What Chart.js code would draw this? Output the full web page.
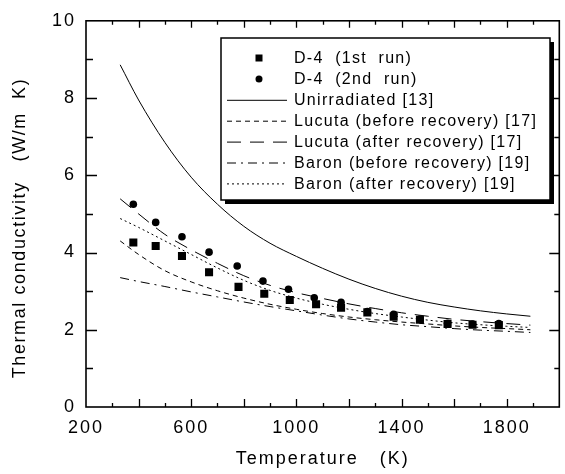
<!DOCTYPE html>
<html>
<head>
<meta charset="utf-8">
<script src="https://cdn.jsdelivr.net/npm/chart.js@4/dist/chart.umd.min.js"></script>
<style>
  html, body { margin: 0; padding: 0; background: #fff; }
</style>
</head>
<body>
<canvas id="chart" width="565" height="474"></canvas>
<script>
// measured points (temperature K, conductivity W/m K)
const run1Temps = [380, 465, 565, 668, 780, 878, 975, 1075, 1170, 1270, 1370, 1470, 1575, 1670, 1770];
const run1Values = [4.26, 4.17, 3.91, 3.49, 3.11, 2.93, 2.77, 2.66, 2.57, 2.45, 2.34, 2.26, 2.15, 2.13, 2.12];
const run2Temps = [380, 465, 565, 668, 775, 873, 970, 1068, 1170, 1270, 1370, 1470, 1575, 1670, 1770];
const run2Values = [5.25, 4.78, 4.41, 4.01, 3.65, 3.26, 3.05, 2.83, 2.71, 2.47, 2.40, 2.28, 2.17, 2.15, 2.16];

// literature curves, read at these temperatures
const curveTemps = [330, 400, 500, 600, 700, 800, 900, 1000, 1100, 1200, 1300, 1400, 1500, 1600, 1700, 1800, 1890];
const unirradiated = [8.86, 7.95, 6.85, 5.95, 5.25, 4.68, 4.24, 3.9, 3.59, 3.31, 3.07, 2.87, 2.71, 2.59, 2.49, 2.41, 2.35];
const lucutaBefore = [4.3, 3.95, 3.53, 3.24, 3.01, 2.82, 2.66, 2.53, 2.42, 2.33, 2.26, 2.2, 2.15, 2.1, 2.06, 2.03, 2.0];
const lucutaAfter = [5.39, 5.0, 4.47, 4.07, 3.72, 3.4, 3.15, 2.96, 2.81, 2.67, 2.55, 2.44, 2.35, 2.27, 2.21, 2.16, 2.12];
const baronBefore = [3.35, 3.25, 3.12, 2.98, 2.85, 2.72, 2.6, 2.49, 2.38, 2.28, 2.2, 2.13, 2.08, 2.03, 1.99, 1.96, 1.93];
const baronAfter = [4.88, 4.65, 4.3, 3.95, 3.6, 3.28, 3.02, 2.82, 2.66, 2.53, 2.42, 2.33, 2.25, 2.18, 2.13, 2.09, 2.06];

// axis ticks
const xTickLabels = [200, 600, 1000, 1400, 1800];
const yTickLabels = [0, 2, 4, 6, 8, 10];
const xMajorTicks = [400, 600, 800, 1000, 1200, 1400, 1600, 1800];
const xMinorTicks = [300, 500, 700, 900, 1100, 1300, 1500, 1700, 1900];
const yMajorTicks = [2, 4, 6, 8];
const yMinorTicks = [1, 3, 5, 7, 9];
const yTitle = 'Thermal conductivity   (W/m  K)';

const FONT = "'Liberation Sans', Arial, sans-serif";

function pairs(xs, ys) {
    return xs.map((x, i) => ({ x: x, y: ys[i] }));
}

function lineSet(label, values, dash) {
    return {
        label: label,
        data: pairs(curveTemps, values),
        showLine: true,
        borderColor: '#000',
        borderWidth: 1,
        borderDash: dash,
        pointRadius: 0,
        fill: false,
        cubicInterpolationMode: 'monotone'
    };
}

const datasets = [
    {
        label: 'D-4  (1st  run)',
        data: pairs(run1Temps, run1Values),
        pointStyle: 'rect',
        pointRadius: 5.7,
        backgroundColor: '#000',
        borderColor: '#000',
        borderWidth: 0,
        showLine: false
    },
    {
        label: 'D-4  (2nd  run)',
        data: pairs(run2Temps, run2Values),
        pointStyle: 'circle',
        pointRadius: 3.8,
        backgroundColor: '#000',
        borderColor: '#000',
        borderWidth: 0,
        showLine: false
    },
    lineSet('Unirradiated [13]', unirradiated, []),
    lineSet('Lucuta (before recovery) [17]', lucutaBefore, [5, 4]),
    lineSet('Lucuta (after recovery) [17]', lucutaAfter, [14, 9]),
    lineSet('Baron (before recovery) [19]', baronBefore, [9, 5, 2, 5]),
    lineSet('Baron (after recovery) [19]', baronAfter, [2, 3])
];

// inward ticks on all four sides, the frame and the y title
const frameTicks = {
    id: 'frameTicks',
    afterDatasetsDraw(chart) {
        const ctx = chart.ctx;
        const a = chart.chartArea;
        const xs = chart.scales.x, ys = chart.scales.y;
        ctx.save();
        ctx.strokeStyle = '#000';
        ctx.lineWidth = 1.3;
        ctx.setLineDash([]);
        ctx.beginPath();
        xMajorTicks.forEach(v => {
            const p = Math.round(xs.getPixelForValue(v)) + 0.5;
            ctx.moveTo(p, a.bottom); ctx.lineTo(p, a.bottom - 8);
            ctx.moveTo(p, a.top); ctx.lineTo(p, a.top + 7);
        });
        xMinorTicks.forEach(v => {
            const p = Math.round(xs.getPixelForValue(v)) + 0.5;
            ctx.moveTo(p, a.bottom); ctx.lineTo(p, a.bottom - 4);
            ctx.moveTo(p, a.top); ctx.lineTo(p, a.top + 4);
        });
        yMajorTicks.forEach(v => {
            const p = Math.round(ys.getPixelForValue(v)) + 0.5;
            ctx.moveTo(a.left, p); ctx.lineTo(a.left + 11, p);
            ctx.moveTo(a.right, p); ctx.lineTo(a.right - 10, p);
        });
        yMinorTicks.forEach(v => {
            const p = Math.round(ys.getPixelForValue(v)) + 0.5;
            ctx.moveTo(a.left, p); ctx.lineTo(a.left + 7, p);
            ctx.moveTo(a.right, p); ctx.lineTo(a.right - 5, p);
        });
        ctx.stroke();
        ctx.lineWidth = 1.6;
        ctx.strokeRect(a.left, a.top, a.right - a.left, a.bottom - a.top);

        // y axis title
        ctx.translate(20, 228);
        ctx.rotate(-Math.PI / 2);
        ctx.font = '18px ' + FONT;
        ctx.letterSpacing = '1.6px';
        ctx.fillStyle = '#000';
        ctx.textAlign = 'center';
        ctx.textBaseline = 'middle';
        ctx.fillText(yTitle, 0, 0);
        ctx.restore();
    }
};

// boxed legend with a drop shadow inside the plot
const boxLegend = {
    id: 'boxLegend',
    afterDraw(chart) {
        const ctx = chart.ctx;
        const bx = 221, by = 38, bw = 329, bh = 162;
        ctx.save();
        ctx.fillStyle = '#000';
        ctx.fillRect(bx + 4, by + 4, bw, bh);
        ctx.fillStyle = '#fff';
        ctx.fillRect(bx, by, bw, bh);
        ctx.strokeStyle = '#000';
        ctx.lineWidth = 1.5;
        ctx.strokeRect(bx, by, bw, bh);

        ctx.font = '16px ' + FONT;
        ctx.textBaseline = 'middle';
        ctx.letterSpacing = '1.3px';
        chart.data.datasets.forEach((ds, i) => {
            const y = 58 + i * 20.9;
            ctx.fillStyle = '#000';
            if (ds.showLine) {
                ctx.strokeStyle = '#000';
                ctx.lineWidth = 1;
                ctx.setLineDash(ds.borderDash);
                ctx.beginPath();
                ctx.moveTo(227, y + 0.5);
                ctx.lineTo(287, y + 0.5);
                ctx.stroke();
                ctx.setLineDash([]);
            } else if (ds.pointStyle === 'rect') {
                ctx.fillRect(255.5, y - 3.5, 7, 7);
            } else {
                ctx.beginPath();
                ctx.arc(259, y, 3.5, 0, Math.PI * 2);
                ctx.fill();
            }
            ctx.fillText(ds.label, 294, y + 1);
        });
        ctx.restore();
    }
};

const spacing = {
    id: 'spacing',
    beforeDraw(chart) {
        chart.ctx.letterSpacing = '2px';
    }
};

new Chart(document.getElementById('chart'), {
    type: 'scatter',
    data: { datasets: datasets },
    options: {
        responsive: false,
        devicePixelRatio: 1,
        animation: false,
        layout: { padding: { top: 19, right: 4, left: 0, bottom: 0 } },
        plugins: {
            legend: { display: false },
            tooltip: { enabled: false }
        },
        scales: {
            x: {
                type: 'linear',
                min: 200,
                max: 2000,
                afterFit(s) { s.height = 67; },
                afterBuildTicks(s) { s.ticks = xTickLabels.map(v => ({ value: v })); },
                grid: { display: false, drawTicks: false },
                border: { display: false },
                ticks: {
                    color: '#000',
                    padding: 10,
                    maxRotation: 0,
                    autoSkip: false,
                    font: { family: FONT, size: 18 },
                    callback: v => String(v)
                },
                title: {
                    display: true,
                    text: 'Temperature   (K)',
                    color: '#000',
                    font: { family: FONT, size: 18 },
                    padding: { top: 0, bottom: 4 }
                }
            },
            y: {
                min: 0,
                max: 10,
                afterFit(s) { s.width = 86; },
                afterBuildTicks(s) { s.ticks = yTickLabels.map(v => ({ value: v })); },
                grid: { display: false, drawTicks: false },
                border: { display: false },
                ticks: {
                    color: '#000',
                    padding: 10,
                    autoSkip: false,
                    font: { family: FONT, size: 18 },
                    callback: v => String(v)
                }
            }
        }
    },
    plugins: [spacing, frameTicks, boxLegend]
});
</script>
</body>
</html>
